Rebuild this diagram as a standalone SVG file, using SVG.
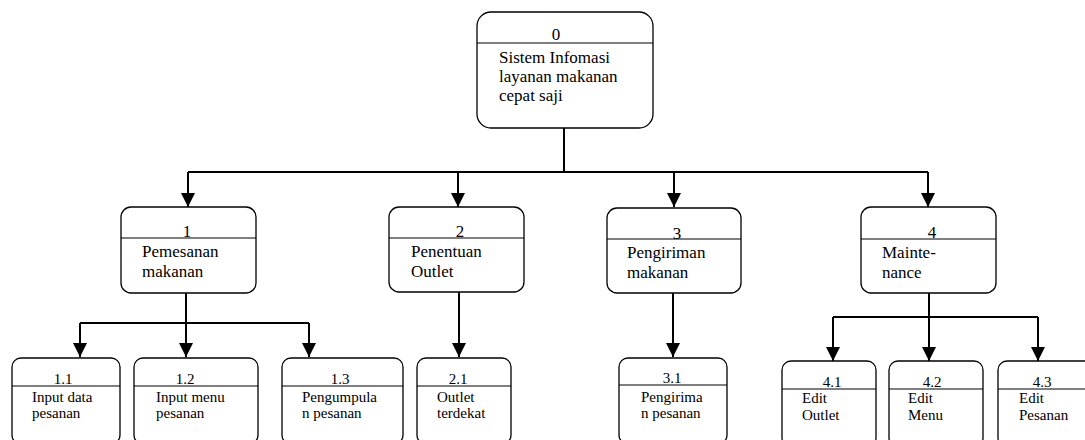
<svg xmlns="http://www.w3.org/2000/svg" width="1085" height="440" viewBox="0 0 1085 440">
<style>
.box{fill:#fff;stroke:#000;stroke-width:1.3}
.div{stroke:#000;stroke-width:1.2}
text{font-family:'Liberation Serif','Times New Roman','DejaVu Serif',serif;fill:#000}
.l1{font-size:17px}
.l2{font-size:15px}
.c{text-anchor:middle}
.con{fill:none;stroke:#000;stroke-width:2}
</style>
<defs>
<marker id="ah" markerUnits="userSpaceOnUse" markerWidth="14" markerHeight="14" refX="14" refY="7" orient="auto" viewBox="0 0 14 14">
<path d="M0,0 L14,7 L0,14 z" fill="#000"/>
</marker>
</defs>
<rect width="1085" height="440" fill="#fff"/>
<g id="connectors">
<path class="con" d="M564,128 V172 M188,172 H928"/>
<path class="con" d="M188,172 V207" marker-end="url(#ah)"/>
<path class="con" d="M458,172 V207" marker-end="url(#ah)"/>
<path class="con" d="M674,172 V207" marker-end="url(#ah)"/>
<path class="con" d="M928,172 V207" marker-end="url(#ah)"/>
<path class="con" d="M186,293 V323 M80,323 H309"/>
<path class="con" d="M80,323 V357" marker-end="url(#ah)"/>
<path class="con" d="M186,323 V357" marker-end="url(#ah)"/>
<path class="con" d="M309,323 V357" marker-end="url(#ah)"/>
<path class="con" d="M459,292 V357" marker-end="url(#ah)"/>
<path class="con" d="M673,293 V357" marker-end="url(#ah)"/>
<path class="con" d="M929,293 V317 M833,317 H1038"/>
<path class="con" d="M833,317 V361" marker-end="url(#ah)"/>
<path class="con" d="M929,317 V361" marker-end="url(#ah)"/>
<path class="con" d="M1038,317 V361" marker-end="url(#ah)"/>
</g>
<g id="n0">
<rect class="box" x="477" y="12" width="176" height="116" rx="14"/>
<line class="div" x1="477" y1="43" x2="653" y2="43"/>
<text class="l1 c" x="556" y="40">0</text>
<text class="l1" x="499" y="63">Sistem Infomasi</text>
<text class="l1" x="499" y="82">layanan makanan</text>
<text class="l1" x="499" y="101">cepat saji</text>
</g>
<g id="n1">
<rect class="box" x="121" y="207" width="135" height="86" rx="10"/>
<line class="div" x1="121" y1="238" x2="256" y2="238"/>
<text class="l1 c" x="187" y="237">1</text>
<text class="l1" x="142" y="257">Pemesanan</text>
<text class="l1" x="142" y="277">makanan</text>
</g>
<g id="n2">
<rect class="box" x="389" y="207" width="135" height="85" rx="10"/>
<line class="div" x1="389" y1="238" x2="524" y2="238"/>
<text class="l1 c" x="460" y="237">2</text>
<text class="l1" x="411" y="257">Penentuan</text>
<text class="l1" x="411" y="277">Outlet</text>
</g>
<g id="n3">
<rect class="box" x="607" y="208" width="134" height="85" rx="10"/>
<line class="div" x1="607" y1="239" x2="741" y2="239"/>
<text class="l1 c" x="677" y="239">3</text>
<text class="l1" x="627" y="258">Pengiriman</text>
<text class="l1" x="627" y="278">makanan</text>
</g>
<g id="n4">
<rect class="box" x="861" y="207" width="135" height="86" rx="10"/>
<line class="div" x1="861" y1="239" x2="996" y2="239"/>
<text class="l1 c" x="932" y="238">4</text>
<text class="l1" x="882" y="258">Mainte-</text>
<text class="l1" x="882" y="278">nance</text>
</g>
<g id="n1_1">
<rect class="box" x="12" y="358" width="108" height="86" rx="9"/>
<line class="div" x1="12" y1="386" x2="120" y2="386"/>
<text class="l2 c" x="63" y="384">1.1</text>
<text class="l2" x="32" y="402">Input data</text>
<text class="l2" x="32" y="418">pesanan</text>
</g>
<g id="n1_2">
<rect class="box" x="134" y="358" width="124" height="86" rx="9"/>
<line class="div" x1="134" y1="386" x2="258" y2="386"/>
<text class="l2 c" x="185" y="384">1.2</text>
<text class="l2" x="156" y="402">Input menu</text>
<text class="l2" x="156" y="418">pesanan</text>
</g>
<g id="n1_3">
<rect class="box" x="282" y="358" width="121" height="86" rx="9"/>
<line class="div" x1="282" y1="386" x2="403" y2="386"/>
<text class="l2 c" x="340" y="384">1.3</text>
<text class="l2" x="302" y="402">Pengumpula</text>
<text class="l2" x="302" y="418">n pesanan</text>
</g>
<g id="n2_1">
<rect class="box" x="417" y="358" width="94" height="86" rx="9"/>
<line class="div" x1="417" y1="386" x2="511" y2="386"/>
<text class="l2 c" x="458" y="384">2.1</text>
<text class="l2" x="437" y="402">Outlet</text>
<text class="l2" x="437" y="418">terdekat</text>
</g>
<g id="n3_1">
<rect class="box" x="619" y="358" width="108" height="86" rx="9"/>
<line class="div" x1="619" y1="385" x2="727" y2="385"/>
<text class="l2 c" x="672" y="383">3.1</text>
<text class="l2" x="641" y="402">Pengirima</text>
<text class="l2" x="641" y="418">n pesanan</text>
</g>
<g id="n4_1">
<rect class="box" x="782" y="361" width="94" height="86" rx="9"/>
<line class="div" x1="782" y1="389" x2="876" y2="389"/>
<text class="l2 c" x="832" y="387">4.1</text>
<text class="l2" x="802" y="403">Edit</text>
<text class="l2" x="802" y="420">Outlet</text>
</g>
<g id="n4_2">
<rect class="box" x="889" y="361" width="94" height="86" rx="9"/>
<line class="div" x1="889" y1="389" x2="983" y2="389"/>
<text class="l2 c" x="932" y="387">4.2</text>
<text class="l2" x="908" y="403">Edit</text>
<text class="l2" x="908" y="420">Menu</text>
</g>
<g id="n4_3">
<rect class="box" x="998" y="361" width="97" height="86" rx="9"/>
<line class="div" x1="998" y1="389" x2="1095" y2="389"/>
<text class="l2 c" x="1042" y="387">4.3</text>
<text class="l2" x="1019" y="403">Edit</text>
<text class="l2" x="1019" y="420">Pesanan</text>
</g>
</svg>
